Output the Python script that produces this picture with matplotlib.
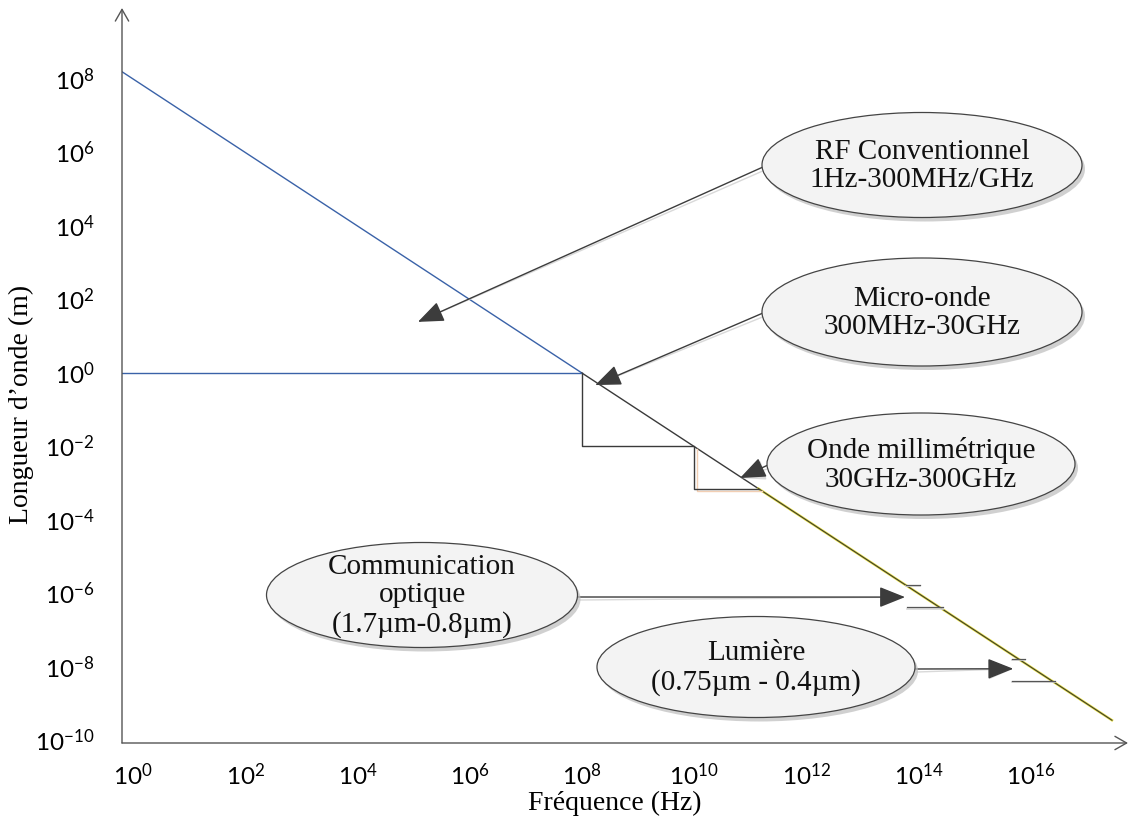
import matplotlib.pyplot as plt
from matplotlib.patches import Ellipse

plt.rcParams['mathtext.fontset'] = 'custom'
plt.rcParams['mathtext.rm'] = 'Lato'
plt.rcParams['mathtext.it'] = 'Lato'

SERIF = 'Liberation Serif'

# diagonal lambda-f line as drawn (blue / dark / olive parts)
diag_freq = [10**-0.2, 1e8, 10**11.15, 10**17.45]
diag_wave = [10**8.2, 1e0, 10**-3.15, 10**-9.45]

# staircase of the RF / microwave / mm-wave bands
step_freq = [10**-0.2, 1e8, 1e8, 1e10, 1e10, 10**11.15]
step_wave = [1e0, 1e0, 1e-2, 1e-2, 10**-3.15, 10**-3.15]

# short band marks near the diagonal (optical / light)
mark_wave = [10**-5.77, 10**-6.38, 10**-7.78, 10**-8.38]
mark_f0 = [10**13.77, 10**13.8, 10**15.67, 10**15.67]
mark_f1 = [10**14.03, 10**14.43, 10**15.9, 10**16.43]

xtick_exp = [0, 2, 4, 6, 8, 10, 12, 14, 16]
ytick_exp = [-10, -8, -6, -4, -2, 0, 2, 4, 6, 8]

# callouts: text, ellipse centre / size (px), arrow tail (px), arrow tip (data)
labels = ['RF Conventionnel\n1Hz-300MHz/GHz',
          'Micro-onde\n300MHz-30GHz',
          'Onde millimétrique\n30GHz-300GHz',
          'Communication\noptique\n(1.7µm-0.8µm)',
          'Lumière\n(0.75µm - 0.4µm)']
ell_xy = [(922, 165), (922, 312), (921, 464), (422, 595), (756, 667)]
ell_wh = [(320, 105), (320, 108), (308, 102), (311, 105), (318, 101)]
tail_xy = [(763, 167), (763, 313), (768, 465), (578, 597), (915, 669)]
tip_freq = [10**5.08, 10**8.24, 10**10.82, 10**13.76, 10**15.69]
tip_wave = [10**1.39, 10**-0.33, 10**-2.86, 10**-6.1, 10**-8.05]

W, H = 1129, 823
fig = plt.figure(figsize=(W / 100, H / 100), dpi=100)
ax = fig.add_axes([122 / W, (H - 743) / H, (1128 - 122) / W, (743 - 8) / H])
ax.set_xscale('log')
ax.set_yscale('log')
ax.set_xlim(10**-0.196, 10**17.736)
ax.set_ylim(10**-10.07, 10**9.93)
for s in ax.spines.values():
    s.set_visible(False)

ax.set_xticks([10.0**e for e in xtick_exp])
ax.set_xticklabels([r'$10^{%d}$' % e for e in xtick_exp])
ax.set_yticks([10.0**e for e in ytick_exp])
ax.set_yticklabels([r'$10^{%d}$' % e for e in ytick_exp])
ax.minorticks_off()
ax.tick_params(axis='x', length=0, pad=15, labelsize=17.5)
ax.tick_params(axis='y', length=0, pad=20, labelsize=17.5)
ax.set_xlabel('Fréquence (Hz)', family=SERIF, fontsize=20, labelpad=0)
ax.set_ylabel("Longueur d’onde (m)", family=SERIF, fontsize=20)
ax.yaxis.set_label_coords(-0.087, 0.46)
ax.xaxis.set_label_coords(0.49, -0.065)

# axes with arrow heads
arr = dict(arrowstyle='->,head_length=0.7,head_width=0.4', color='#555555',
           lw=1.0, mutation_scale=12, shrinkA=0, shrinkB=0)
ax.annotate('', xy=(0, 1), xytext=(0, 0), xycoords='axes fraction', arrowprops=arr)
ax.annotate('', xy=(1, 0), xytext=(0, 0), xycoords='axes fraction', arrowprops=arr)

# diagonal line
ax.plot(diag_freq[:2], diag_wave[:2], color='#3a62a8', lw=1.0)
ax.plot(diag_freq[1:3], diag_wave[1:3], color='#3a3a3a', lw=1.0)
ax.plot(diag_freq[2:], diag_wave[2:], color='#e8e040', lw=1.8)
ax.plot(diag_freq[2:], diag_wave[2:], color='#3a3a30', lw=0.8)

# staircase
ax.plot(step_freq[:2], step_wave[:2], color='#3a62a8', lw=1.0)
ax.plot([f * 1.15 for f in step_freq[3:]], [w * 0.85 for w in step_wave[3:]],
        color='#f2cfb4', lw=1.0)
ax.plot(step_freq[1:], step_wave[1:], color='#3a3a3a', lw=1.0)

# band marks
for w, f0, f1 in zip(mark_wave, mark_f0, mark_f1):
    ax.plot([f0, f1], [w * 0.93, w * 0.93], color='#d8d8d8', lw=1.2)
    ax.plot([f0, f1], [w, w], color='#555555', lw=0.9)

# overlay in pixel coords for the callouts
ov = fig.add_axes([0, 0, 1, 1])
ov.set_xlim(0, W)
ov.set_ylim(H, 0)
ov.axis('off')
ov.patch.set_visible(False)

head = '-|>,head_length=1.0,head_width=0.4'
for i in range(len(labels)):
    tx, ty = tail_xy[i]
    ax.annotate('', xy=(tip_freq[i], tip_wave[i]), xytext=(tx + 2, ty + 3),
                textcoords=ov.transData,
                arrowprops=dict(arrowstyle=head, mutation_scale=16,
                                color='#d9d9d9', lw=1.0, shrinkA=0, shrinkB=0))
    ax.annotate('', xy=(tip_freq[i], tip_wave[i]), xytext=(tx, ty),
                textcoords=ov.transData,
                arrowprops=dict(arrowstyle=head, mutation_scale=16,
                                color='#3c3c3c', lw=1.0, shrinkA=0, shrinkB=0))
    (cx, cy), (ew, eh) = ell_xy[i], ell_wh[i]
    ov.add_patch(Ellipse((cx + 3, cy + 4), ew, eh, facecolor='#bdbdbd',
                         edgecolor='none', alpha=0.7))
    ov.add_patch(Ellipse((cx, cy), ew, eh, facecolor='#f3f3f3',
                         edgecolor='#444444', lw=0.9))
    ov.text(cx, cy + 1, labels[i], ha='center', va='center', family=SERIF,
            fontsize=21, linespacing=1.12, color='#111111')

fig.savefig('out.png', dpi=100, facecolor='white')
